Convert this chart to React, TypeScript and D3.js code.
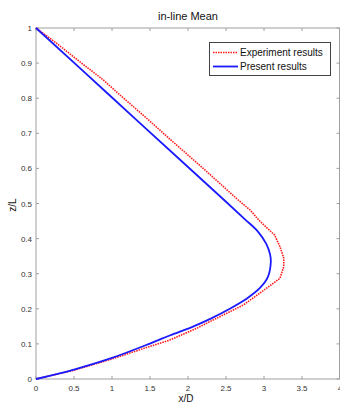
import { useEffect, useRef } from "react";
import * as d3 from "d3";

// x/D, z/L
const experimentX = [0, 0.25, 0.57, 0.88, 1.1, 1.45, 1.8, 2.2, 2.66, 2.82, 2.93, 3.14, 3.21, 3.26, 3.26, 3.21, 3.03, 2.73, 2.33, 2.11, 1.76, 1.5, 1.0, 0.5, 0];
const experimentZ = [1, 0.96, 0.905, 0.853, 0.81, 0.744, 0.676, 0.6, 0.51, 0.481, 0.453, 0.41, 0.377, 0.344, 0.32, 0.287, 0.258, 0.211, 0.168, 0.144, 0.111, 0.093, 0.057, 0.025, 0];

const presentX = [0, 1.0, 2.0, 2.5, 2.75, 2.92, 3.03, 3.08, 3.09, 3.05, 2.95, 2.78, 2.55, 2.3, 2.05, 1.76, 1.5, 1.0, 0.5, 0];
const presentZ = [1, 0.802, 0.604, 0.505, 0.455, 0.42, 0.385, 0.355, 0.334, 0.29, 0.26, 0.23, 0.2, 0.172, 0.148, 0.124, 0.101, 0.06, 0.027, 0];

const xTicks = [0, 0.5, 1, 1.5, 2, 2.5, 3, 3.5, 4];
const yTicks = [0, 0.1, 0.2, 0.3, 0.4, 0.5, 0.6, 0.7, 0.8, 0.9, 1];

const legendItems = ["Experiment results", "Present results"];

export default function App() {
  const svgRef = useRef<SVGSVGElement | null>(null);

  useEffect(() => {
    const width = 340;
    const height = 403;
    const left = 36, right = 340, top = 28, bottom = 379;
    const font = "Liberation Sans, Arial, sans-serif";
    const axisColor = "#a0a0a0";

    const svg = d3.select(svgRef.current).attr("width", width).attr("height", height);
    svg.selectAll("*").remove();

    const x = d3.scaleLinear().domain([0, 4]).range([left, right]);
    const y = d3.scaleLinear().domain([0, 1]).range([bottom, top]);

    svg.append("rect").attr("width", width).attr("height", height).attr("fill", "white");

    // frame
    svg
      .append("rect")
      .attr("x", left)
      .attr("y", top)
      .attr("width", right - left - 0.5)
      .attr("height", bottom - top)
      .attr("fill", "none")
      .attr("stroke", axisColor)
      .attr("stroke-width", 1);

    const tl = 3;
    const g = svg.append("g").attr("stroke", axisColor).attr("stroke-width", 1);
    xTicks.forEach((t) => {
      g.append("line").attr("x1", x(t)).attr("x2", x(t)).attr("y1", bottom).attr("y2", bottom - tl);
      g.append("line").attr("x1", x(t)).attr("x2", x(t)).attr("y1", top).attr("y2", top + tl);
    });
    yTicks.forEach((t) => {
      g.append("line").attr("x1", left).attr("x2", left + tl).attr("y1", y(t)).attr("y2", y(t));
      g.append("line").attr("x1", right - 0.5).attr("x2", right - 0.5 - tl).attr("y1", y(t)).attr("y2", y(t));
    });

    svg
      .selectAll("text.xt")
      .data(xTicks)
      .enter()
      .append("text")
      .attr("x", (d) => x(d))
      .attr("y", bottom + 12)
      .attr("text-anchor", "middle")
      .attr("font-family", font)
      .attr("font-size", 8)
      .attr("fill", "#333")
      .text((d) => String(d));

    svg
      .selectAll("text.yt")
      .data(yTicks)
      .enter()
      .append("text")
      .attr("x", left - 4)
      .attr("y", (d) => y(d) + 3)
      .attr("text-anchor", "end")
      .attr("font-family", font)
      .attr("font-size", 8)
      .attr("fill", "#333")
      .text((d) => String(d));

    svg
      .append("text")
      .attr("x", 188)
      .attr("y", 20)
      .attr("text-anchor", "middle")
      .attr("font-family", font)
      .attr("font-size", 11)
      .attr("fill", "#111")
      .text("in-line Mean");

    svg
      .append("text")
      .attr("x", 186)
      .attr("y", 402)
      .attr("text-anchor", "middle")
      .attr("font-family", font)
      .attr("font-size", 10)
      .attr("fill", "#111")
      .text("x/D");

    svg
      .append("text")
      .attr("transform", "translate(16,205) rotate(-90)")
      .attr("text-anchor", "middle")
      .attr("font-family", font)
      .attr("font-size", 10)
      .attr("fill", "#111")
      .text("z/L");

    const expData = experimentX.map((v, i) => [v, experimentZ[i]] as [number, number]);
    const preData = presentX.map((v, i) => [v, presentZ[i]] as [number, number]);

    const lineLinear = d3
      .line<[number, number]>()
      .x((d) => x(d[0]))
      .y((d) => y(d[1]));
    const lineSmooth = d3
      .line<[number, number]>()
      .x((d) => x(d[0]))
      .y((d) => y(d[1]))
      .curve(d3.curveCatmullRom.alpha(0.5));

    svg
      .append("path")
      .attr("d", lineLinear(expData))
      .attr("fill", "none")
      .attr("stroke", "#ff1a1a")
      .attr("stroke-width", 1.6)
      .attr("stroke-dasharray", "1.5,1");

    svg
      .append("path")
      .attr("d", lineSmooth(preData))
      .attr("fill", "none")
      .attr("stroke", "#1a1aff")
      .attr("stroke-width", 1.8);

    // legend
    const lg = svg.append("g");
    lg.append("rect")
      .attr("x", 209.5)
      .attr("y", 42.5)
      .attr("width", 121)
      .attr("height", 33)
      .attr("fill", "white")
      .attr("stroke", "#444")
      .attr("stroke-width", 1);
    const colors = ["#ff1a1a", "#1a1aff"];
    const dashes = ["1.5,1", null];
    legendItems.forEach((label, i) => {
      const ly = 52.5 + i * 14;
      lg.append("line")
        .attr("x1", 213)
        .attr("x2", 238)
        .attr("y1", ly)
        .attr("y2", ly)
        .attr("stroke", colors[i])
        .attr("stroke-width", i === 0 ? 1.6 : 1.8)
        .attr("stroke-dasharray", dashes[i]);
      lg.append("text")
        .attr("x", 240)
        .attr("y", ly + 3.5)
        .attr("font-family", font)
        .attr("font-size", 10)
        .attr("fill", "#111")
        .text(label);
    });
  }, []);

  return (
    <div style={{ position: "absolute", left: 0, top: 0 }}>
      <svg ref={svgRef} style={{ display: "block" }}></svg>
    </div>
  );
}
